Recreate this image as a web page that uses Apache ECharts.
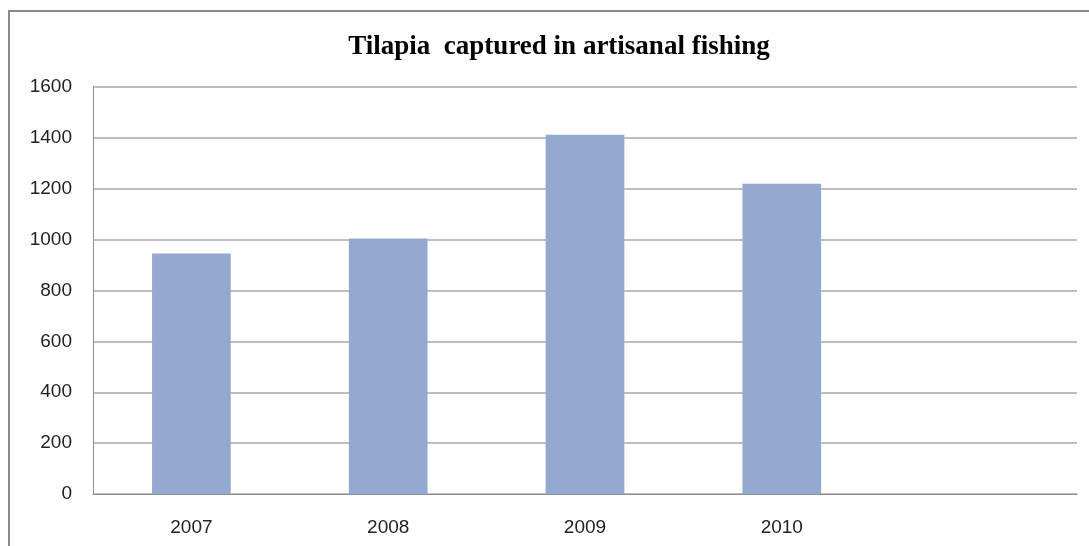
<!DOCTYPE html>
<html>
<head>
<meta charset="utf-8">
<script src="https://cdn.jsdelivr.net/npm/echarts@6/dist/echarts.min.js"></script>
<style>
  html, body { margin: 0; padding: 0; background: #fff; }
  #chart { width: 1089px; height: 546px; }
</style>
</head>
<body>
<div id="chart"></div>
<script>
// Yearly tilapia catch from artisanal fishing
const titleText = 'Tilapia  captured in artisanal fishing';
const years = ['2007', '2008', '2009', '2010', ''];
const catches = [945, 1004, 1412, 1220, null];
const yTicks = { min: 0, max: 1600, interval: 200 };

const chart = echarts.init(document.getElementById('chart'), null, { renderer: 'canvas' });

chart.setOption({
  animation: false,
  backgroundColor: '#ffffff',
  grid: { left: 93, right: 12, top: 87, bottom: 52, containLabel: false },
  graphic: [
    {
      type: 'rect',
      shape: { x: 9, y: 11, width: 1200, height: 700 },
      style: { fill: 'none', stroke: '#8a8a8a', lineWidth: 2 },
      silent: true
    },
    {
      type: 'text',
      x: 559,
      y: 47,
      style: {
        text: titleText,
        fill: '#000',
        font: 'bold 27px "Liberation Serif", "DejaVu Serif", serif',
        textAlign: 'center',
        textVerticalAlign: 'middle'
      }
    }
  ],
  xAxis: {
    type: 'category',
    data: years,
    axisLine: { show: true, lineStyle: { color: '#8f8f8f', width: 1 } },
    axisTick: { show: false },
    axisLabel: {
      color: '#222',
      fontFamily: '"Liberation Sans", Arial, sans-serif',
      fontSize: 19,
      margin: 24
    },
    splitLine: { show: false }
  },
  yAxis: {
    type: 'value',
    min: yTicks.min,
    max: yTicks.max,
    interval: yTicks.interval,
    axisLine: { show: true, lineStyle: { color: '#8f8f8f', width: 1 } },
    axisTick: { show: false },
    axisLabel: {
      color: '#222',
      fontFamily: '"Liberation Sans", Arial, sans-serif',
      fontSize: 19,
      margin: 21,
      formatter: (v) => String(v)
    },
    splitLine: { show: true, lineStyle: { color: '#a8a8a8', width: 1.5 } }
  },
  series: [
    {
      type: 'bar',
      data: catches,
      barCategoryGap: '60%',
      itemStyle: { color: '#94a9d0' }
    }
  ]
});
</script>
</body>
</html>
